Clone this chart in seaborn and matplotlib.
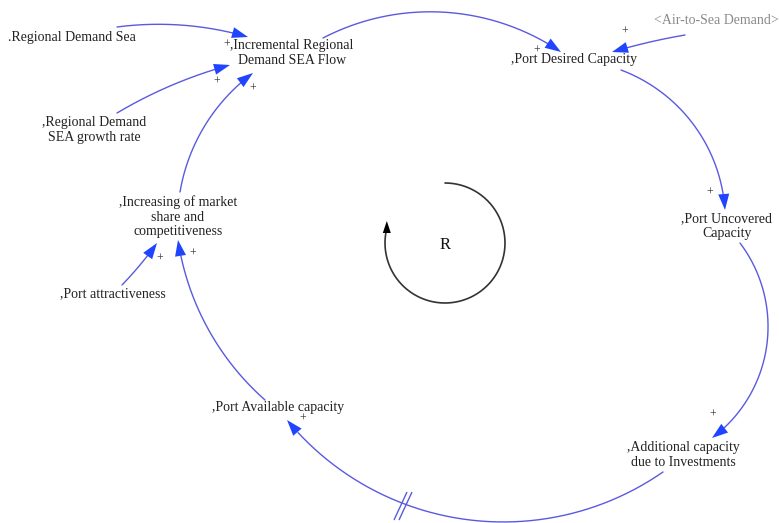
import numpy as np
import matplotlib
matplotlib.use("Agg")
import matplotlib.pyplot as plt
import seaborn as sns
from matplotlib.patches import Polygon

sns.set_theme(style="white")
plt.rcParams['font.family'] = ['Liberation Serif', 'DejaVu Serif']

# ---- diagram content ----
node_labels = [
    ".Regional Demand Sea",
    ",Incremental Regional\nDemand SEA Flow",
    ",Regional Demand\nSEA growth rate",
    ",Port Desired Capacity",
    "<Air-to-Sea Demand>",
    ",Port Uncovered\nCapacity",
    ",Additional capacity\ndue to Investments",
    ",Port Available capacity",
    ",Increasing of market\nshare and\ncompetitiveness",
    ",Port attractiveness",
]
node_xy = [(8, 37), (292, 53), (94, 130), (574, 60), (716, 21),
           (727, 226), (683, 455), (278, 408), (178, 217), (113, 294)]
node_ha = ["left", "center", "center", "center", "center",
           "center", "center", "center", "center", "center"]
node_color = ["#222222"] * 4 + ["#8a8a8a"] + ["#222222"] * 5

# links: (start, via, end) in pixel coords
link_paths = [
    ((117, 27), (180, 25), (248, 37)),
    ((117, 113), (170, 86), (230, 65)),
    ((180, 192), (204, 127), (253, 73)),
    ((323, 38), (440, 12), (561, 52)),
    ((685, 35), (650, 42), (612, 52)),
    ((621, 70), (690, 120), (725, 210)),
    ((740, 243), (768, 330), (712, 438)),
    ((663, 472), (480, 521), (287, 420)),
    ((265, 400), (200, 313), (178, 240)),
    ((122, 285), (140, 265), (157, 243)),
]
polarity_xy = [(227, 45), (217, 82), (253, 89), (537, 51), (625, 32),
               (710, 193), (713, 415), (303, 419), (160, 259), (193, 254)]
polarity_sign = ["+"] * 10

loop_label = "R"
loop_center = (445, 243)
loop_radius = 60

LINE_C = "#5a5ae0"
HEAD_C = "#2145ff"


def circle_arc(p0, pm, p1, n=200):
    p0, pm, p1 = map(np.asarray, (p0, pm, p1))
    ax_, ay_ = p0; bx, by = pm; cx, cy = p1
    d = 2 * (ax_ * (by - cy) + bx * (cy - ay_) + cx * (ay_ - by))
    if abs(d) < 1e-9:
        t = np.linspace(0, 1, n)[:, None]
        return p0 + (p1 - p0) * t
    ux = ((ax_**2 + ay_**2) * (by - cy) + (bx**2 + by**2) * (cy - ay_) + (cx**2 + cy**2) * (ay_ - by)) / d
    uy = ((ax_**2 + ay_**2) * (cx - bx) + (bx**2 + by**2) * (ax_ - cx) + (cx**2 + cy**2) * (bx - ax_)) / d
    r = np.hypot(ax_ - ux, ay_ - uy)
    a0 = np.arctan2(ay_ - uy, ax_ - ux)
    am = np.arctan2(by - uy, bx - ux)
    a1 = np.arctan2(cy - uy, cx - ux)
    def norm(a):
        return (a - a0) % (2 * np.pi)
    if norm(am) < norm(a1):
        ts = a0 + np.linspace(0, norm(a1), n)
    else:
        ts = a0 - np.linspace(0, 2 * np.pi - norm(a1), n)
    return np.column_stack([ux + r * np.cos(ts), uy + r * np.sin(ts)])


def head(ax, tip, direction, length, width, color):
    d = np.asarray(direction, float)
    d /= np.hypot(*d)
    nrm = np.array([-d[1], d[0]])
    tip = np.asarray(tip, float)
    base = tip - d * length
    pts = [tip, base + nrm * width / 2, base - nrm * width / 2]
    ax.add_patch(Polygon(pts, closed=True, color=color, lw=0, zorder=4))
    return base


fig = plt.figure(figsize=(7.79, 5.23), dpi=100)
ax = fig.add_axes([0, 0, 1, 1])
ax.set_xlim(0, 779)
ax.set_ylim(523, 0)
ax.axis("off")

for (p0, pm, p1) in link_paths:
    pts = circle_arc(p0, pm, p1)
    tip = pts[-1]
    direction = pts[-1] - pts[-6]
    L = 16
    dist = np.hypot(*(pts - tip).T)
    keep = dist >= L - 1
    ax.plot(pts[keep, 0], pts[keep, 1], color=LINE_C, lw=1.0, solid_capstyle="round", zorder=3)
    head(ax, tip, direction, L, 11, HEAD_C)

# delay mark on the investment link
for off in (-2.5, 2.5):
    c = np.array([403 + off, 506])
    d = np.array([13, -28]) / np.hypot(13, 28)
    a, b = c - d * 15, c + d * 15
    ax.plot([a[0], b[0]], [a[1], b[1]], color=LINE_C, lw=1.0, zorder=3)

for lab, (x, y), ha, col in zip(node_labels, node_xy, node_ha, node_color):
    ax.text(x, y, lab, ha=ha, va="center", fontsize=10, color=col,
            linespacing=1.15, multialignment="center", zorder=5)

for s, (x, y) in zip(polarity_sign, polarity_xy):
    ax.text(x, y, s, ha="center", va="center", fontsize=8.5, color="#333333", zorder=5)

# loop symbol
cx, cy = loop_center
ts = np.deg2rad(np.linspace(90, -192, 300))
lx = cx + loop_radius * np.cos(ts)
ly = cy - loop_radius * np.sin(ts)
ax.plot(lx, ly, color="#333333", lw=1.2, zorder=3)
head(ax, (lx[-1] + 0.5, 221), (0, -1), 12, 8, "black")
ax.text(cx, cy + 2, loop_label, ha="center", va="center", fontsize=12, color="#111111")

fig.savefig("out.png", dpi=100, facecolor="white")
